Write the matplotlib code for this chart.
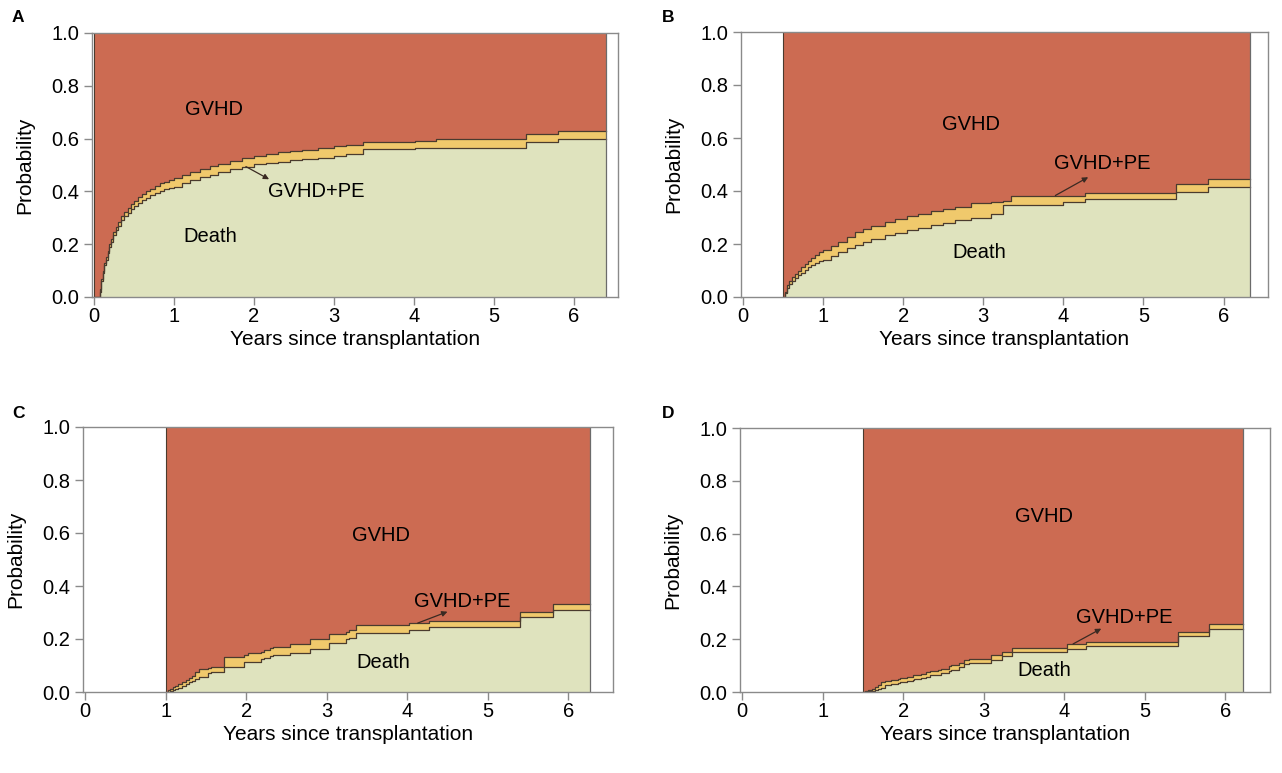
import matplotlib
matplotlib.use("Agg")
import matplotlib.pyplot as plt
import numpy as np

plt.rcParams['font.family'] = ['Liberation Sans', 'DejaVu Sans']

# ---------------- data ----------------
# Panel A (landmark 0 years)
a_t = [0.0, 0.05, 0.07, 0.09, 0.11, 0.13, 0.15, 0.17, 0.19, 0.21, 0.24, 0.27, 0.30, 0.34, 0.38,
       0.42, 0.46, 0.5, 0.55, 0.6, 0.65, 0.7, 0.76, 0.82, 0.88, 0.94, 1.0,
       1.1, 1.2, 1.33, 1.45, 1.55, 1.7, 1.85, 2.0, 2.15, 2.3, 2.45, 2.6, 2.8, 3.0, 3.15, 3.37,
       4.01, 4.28, 5.41, 5.8, 6.4]
a_upper = [0.0, 0.0, 0.03, 0.07, 0.10, 0.13, 0.15, 0.175, 0.20, 0.22, 0.245, 0.265, 0.285, 0.305,
           0.322, 0.338, 0.352, 0.365, 0.378, 0.39, 0.40, 0.41, 0.42, 0.43, 0.437, 0.444, 0.452,
           0.462, 0.472, 0.484, 0.495, 0.505, 0.516, 0.525, 0.535, 0.542, 0.548,
           0.553, 0.558, 0.566, 0.571, 0.576, 0.589, 0.592, 0.599, 0.616, 0.629, 0.629]
a_lower = [0.0, 0.0, 0.02, 0.06, 0.09, 0.12, 0.14, 0.165, 0.19, 0.21, 0.233, 0.252, 0.27, 0.29,
           0.305, 0.32, 0.333, 0.345, 0.356, 0.367, 0.376, 0.385, 0.394, 0.402, 0.408, 0.413, 0.418,
           0.43, 0.443, 0.456, 0.464, 0.472, 0.484, 0.494, 0.502, 0.508,
           0.513, 0.518, 0.522, 0.527, 0.534, 0.542, 0.56, 0.563, 0.566, 0.589, 0.599, 0.599]

# Panel B (landmark 0.5 years)
b_t = [0.5, 0.52, 0.55, 0.58, 0.61, 0.65, 0.69, 0.73, 0.77, 0.81, 0.85, 0.9, 0.95, 1.0, 1.1,
       1.19, 1.3, 1.4, 1.5, 1.6, 1.77, 1.9, 2.05, 2.19, 2.35, 2.5, 2.65, 2.85, 3.1, 3.25, 3.35,
       4.0, 4.27, 5.41, 5.81, 6.33]
b_upper = [0.0, 0.02, 0.045, 0.06, 0.075, 0.088, 0.10, 0.113, 0.123, 0.135, 0.148, 0.16, 0.17,
           0.177, 0.192, 0.207, 0.225, 0.245, 0.258, 0.268, 0.284, 0.295, 0.305, 0.315, 0.323,
           0.332, 0.34, 0.353, 0.36, 0.362, 0.381, 0.381, 0.391, 0.425, 0.444, 0.444]
b_lower = [0.0, 0.015, 0.035, 0.048, 0.06, 0.072, 0.082, 0.092, 0.102, 0.112, 0.122, 0.13,
           0.136, 0.14, 0.155, 0.17, 0.184, 0.196, 0.207, 0.218, 0.233, 0.243, 0.252, 0.26, 0.27,
           0.28, 0.29, 0.3, 0.315, 0.347, 0.347, 0.359, 0.368, 0.397, 0.414, 0.414]

# Panel C (landmark 1 year)
c_t = [1.0, 1.03, 1.06, 1.09, 1.12, 1.16, 1.2, 1.25, 1.29, 1.33, 1.37, 1.41, 1.53, 1.57, 1.73,
       1.98, 2.02, 2.18, 2.22, 2.3, 2.34, 2.54, 2.79, 3.03, 3.24, 3.28, 3.37, 4.02, 4.27, 5.4,
       5.81, 6.27]
c_upper = [0.0, 0.006, 0.012, 0.018, 0.024, 0.029, 0.038, 0.045, 0.052, 0.06, 0.075, 0.086,
           0.09, 0.096, 0.133, 0.14, 0.146, 0.15, 0.158, 0.167, 0.17, 0.18, 0.199, 0.218, 0.225,
           0.234, 0.252, 0.262, 0.268, 0.303, 0.331, 0.331]
c_lower = [0.0, 0.0, 0.004, 0.008, 0.012, 0.016, 0.022, 0.03, 0.036, 0.042, 0.048, 0.055, 0.07,
           0.075, 0.096, 0.113, 0.115, 0.126, 0.13, 0.135, 0.138, 0.146, 0.164, 0.184, 0.199,
           0.205, 0.224, 0.235, 0.247, 0.284, 0.309, 0.309]

# Panel D (landmark 1.5 years)
d_t = [1.5, 1.53, 1.57, 1.61, 1.65, 1.69, 1.73, 1.77, 1.85, 1.94, 1.96, 2.05, 2.12, 2.14, 2.22,
       2.29, 2.33, 2.43, 2.47, 2.57, 2.59, 2.7, 2.76, 2.82, 3.09, 3.23, 3.35, 4.03, 4.27, 5.41,
       5.8, 6.22]
d_upper = [0.0, 0.003, 0.006, 0.012, 0.018, 0.028, 0.038, 0.04, 0.045, 0.05, 0.052, 0.057,
           0.063, 0.065, 0.07, 0.076, 0.078, 0.085, 0.088, 0.1, 0.102, 0.11, 0.12, 0.126, 0.139,
           0.152, 0.168, 0.183, 0.189, 0.227, 0.259, 0.259]
d_lower = [0.0, 0.0, 0.002, 0.004, 0.009, 0.012, 0.015, 0.025, 0.03, 0.035, 0.038, 0.042, 0.045,
           0.05, 0.054, 0.058, 0.063, 0.066, 0.072, 0.08, 0.085, 0.095, 0.107, 0.11, 0.122,
           0.135, 0.152, 0.164, 0.173, 0.211, 0.24, 0.24]

panel_letters = ['A', 'B', 'C', 'D']
x_ticks = [0, 1, 2, 3, 4, 5, 6]
y_ticks = [0.0, 0.2, 0.4, 0.6, 0.8, 1.0]

# label positions (data coords)
gvhd_pos = [(1.5, 0.71), (2.85, 0.65), (3.68, 0.59), (3.75, 0.665)]
death_pos = [(1.45, 0.23), (2.95, 0.167), (3.7, 0.113), (3.75, 0.082)]
pe_text_pos = [(2.78, 0.40), (4.49, 0.503), (4.68, 0.343), (4.75, 0.284)]
pe_arrow_from = [(1.9, 0.494), (3.9, 0.383), (4.13, 0.26), (4.11, 0.182)]
pe_arrow_to = [(2.19, 0.446), (4.31, 0.452), (4.5, 0.303), (4.46, 0.24)]

# ---------------- style ----------------
RED = '#CC6B52'
YEL = '#F0C96C'
GRN = '#DFE3BE'
EDGE = '#4a3b2e'
SPINE = '#8a8a8a'
FS_TICK = 14.5
FS_LAB = 15
FS_ANN = 14.5

W, H = 1282, 773
fig = plt.figure(figsize=(W / 100, H / 100), dpi=100)

# axes boxes in pixels: left, top, width, height
boxes = [(91.6, 33, 526, 264), (740.6, 32, 527, 265), (82.6, 427, 530, 265), (739.6, 428, 530, 264)]
data = [(a_t, a_lower, a_upper), (b_t, b_lower, b_upper), (c_t, c_lower, c_upper), (d_t, d_lower, d_upper)]

for i, ((l, t, w, h), (tt, lo, up)) in enumerate(zip(boxes, data)):
    ax = fig.add_axes([l / W, 1 - (t + h) / H, w / W, h / H])
    tt = np.asarray(tt); lo = np.asarray(lo); up = np.asarray(up)
    ax.fill_between(tt, 0, lo, step='post', color=GRN, lw=0)
    ax.fill_between(tt, lo, up, step='post', color=YEL, lw=0)
    ax.fill_between(tt, up, 1, step='post', color=RED, lw=0)
    ax.step(tt, lo, where='post', color=EDGE, lw=0.9)
    ax.step(tt, up, where='post', color=EDGE, lw=0.9)
    ax.plot([tt[0], tt[0]], [0, 1], color=EDGE, lw=0.8)
    ax.plot([tt[-1], tt[-1]], [0, 1], color='#6b6b6b', lw=0.9)

    ax.set_xlim(-0.03, 6.55)
    ax.set_ylim(0, 1)
    ax.set_xticks(x_ticks)
    ax.set_xticklabels([str(v) for v in x_ticks])
    ax.set_yticks(y_ticks)
    ax.set_yticklabels([f'{v:.1f}' for v in y_ticks])
    ax.tick_params(axis='both', direction='out', length=6, width=1, color=SPINE,
                   labelsize=FS_TICK)
    ax.tick_params(axis='x', pad=1)
    ax.tick_params(axis='y', pad=3)
    for s in ax.spines.values():
        s.set_color(SPINE)
        s.set_linewidth(1.0)
    ax.set_xlabel('Years since transplantation', fontsize=FS_LAB, labelpad=3)
    ax.set_ylabel('Probability', fontsize=FS_LAB, labelpad=12)

    ax.text(*gvhd_pos[i], 'GVHD', fontsize=FS_ANN, ha='center', va='center')
    ax.text(*death_pos[i], 'Death', fontsize=FS_ANN, ha='center', va='center')
    ax.text(*pe_text_pos[i], 'GVHD+PE', fontsize=FS_ANN, ha='center', va='center')
    ax.annotate('', xy=pe_arrow_to[i], xytext=pe_arrow_from[i],
                arrowprops=dict(arrowstyle='-|>', color='#3a2a22', lw=0.9,
                                mutation_scale=8, shrinkA=0, shrinkB=0))

letter_px = [(12, 18), (662, 18), (12, 413), (662, 414)]
for (x, y), L in zip(letter_px, panel_letters):
    fig.text(x / W, 1 - y / H, L, fontsize=12.5, fontweight='bold', ha='left', va='center')

fig.savefig('out.png', dpi=100)
